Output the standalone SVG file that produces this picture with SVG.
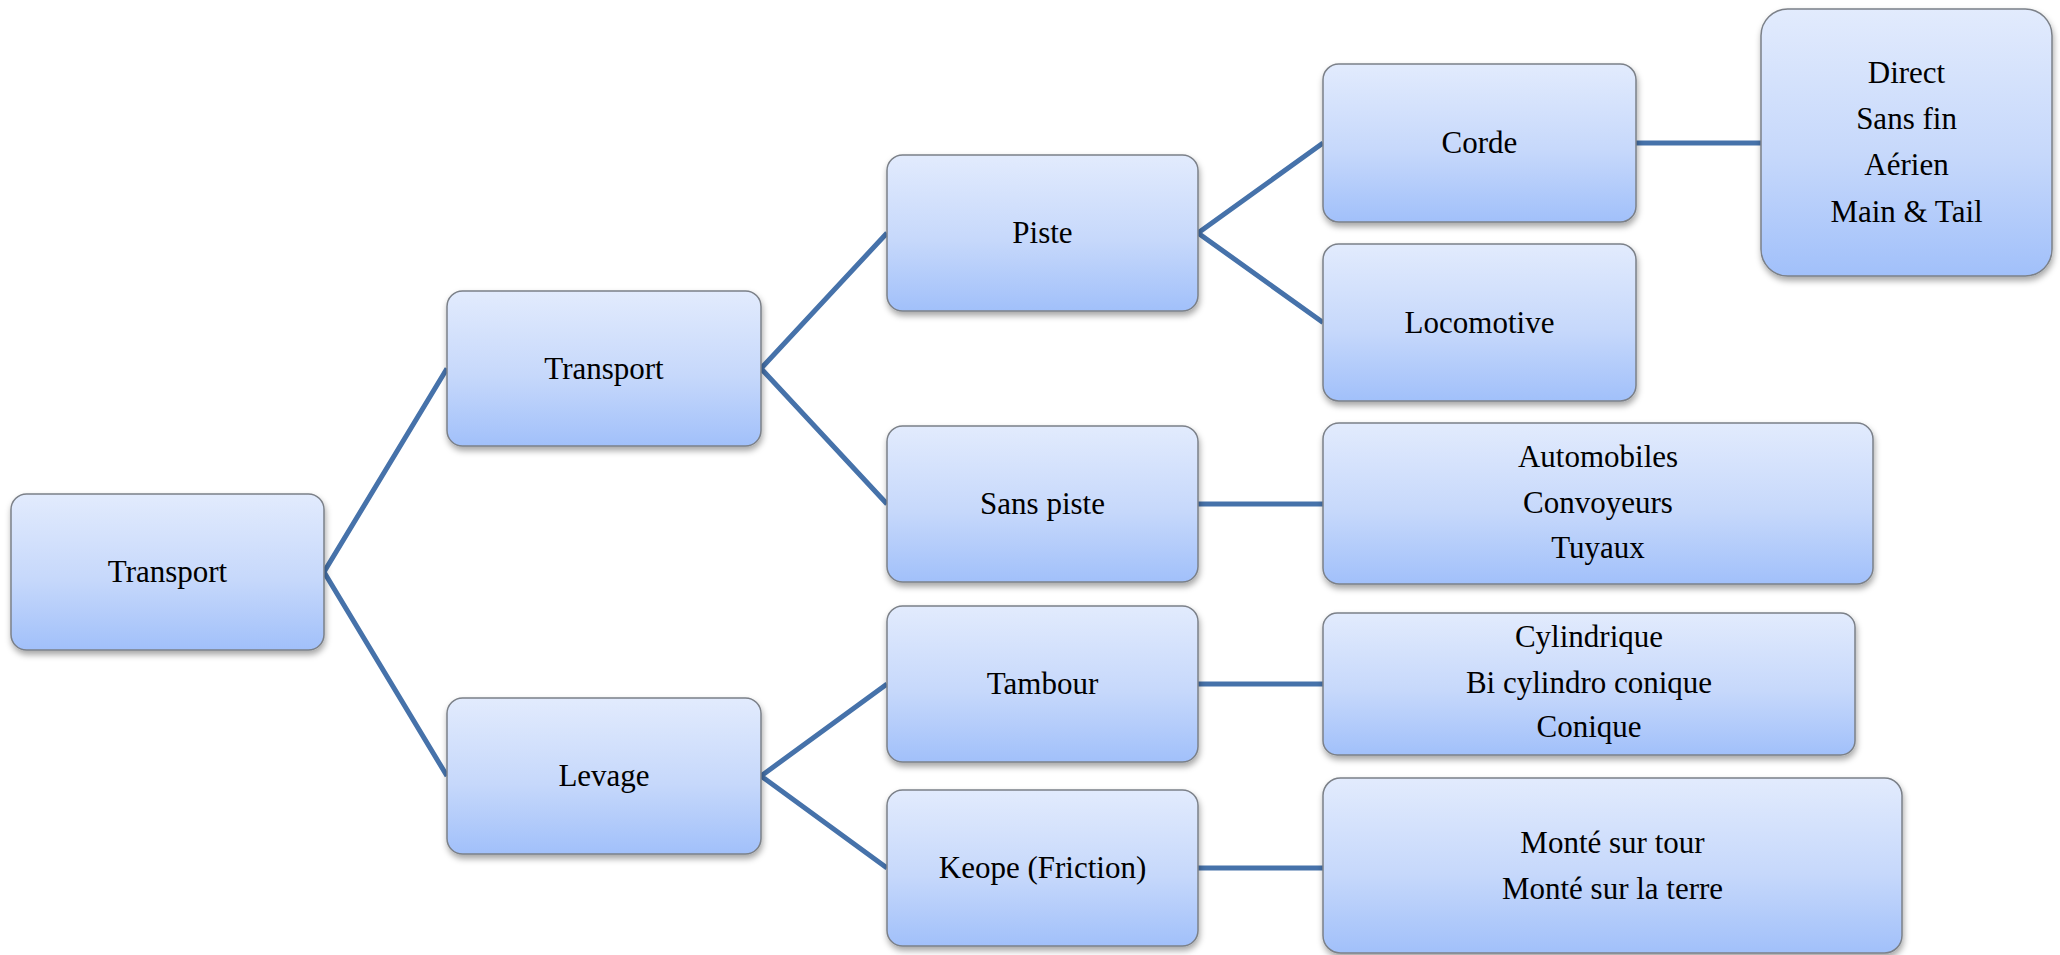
<svg xmlns="http://www.w3.org/2000/svg" width="2060" height="955" viewBox="0 0 2060 955">
<defs>
<linearGradient id="g" x1="0" y1="0" x2="0" y2="1">
<stop offset="0" stop-color="#e2ebfd"/>
<stop offset="0.55" stop-color="#c6d8fb"/>
<stop offset="1" stop-color="#a1c0fa"/>
</linearGradient>
<filter id="sh" x="-10%" y="-10%" width="120%" height="125%">
<feDropShadow dx="1" dy="4" stdDeviation="3" flood-color="#000" flood-opacity="0.35"/>
</filter>
</defs>
<style>
.box{fill:url(#g);stroke:#7b8088;stroke-width:1.5;filter:url(#sh)}
.t{font-family:"Liberation Serif","Times New Roman",serif;font-size:31px;fill:#000;text-anchor:middle}
.c{stroke:#4672aa;stroke-width:5;fill:none;stroke-linejoin:miter}
</style>
<rect width="2060" height="955" fill="#fff"/>
<g id="connectors">
<polyline class="c" points="447,368.5 324,572 447,776"/>
<polyline class="c" points="887,233 761,368.5 887,504"/>
<polyline class="c" points="887,684 761,776 887,868"/>
<polyline class="c" points="1323,143 1198,233 1323,322.5"/>
<line class="c" x1="1198" y1="504" x2="1323" y2="504"/>
<line class="c" x1="1198" y1="684" x2="1323" y2="684"/>
<line class="c" x1="1198" y1="868" x2="1323" y2="868"/>
<line class="c" x1="1636" y1="143" x2="1761" y2="143"/>
</g>
<g id="n-root"><rect class="box" x="11" y="494" width="313" height="156" rx="15.6"/><text class="t" x="167.5" y="582">Transport</text></g>
<g id="n-transport"><rect class="box" x="447" y="291" width="314" height="155" rx="15.5"/><text class="t" x="604" y="378.5">Transport</text></g>
<g id="n-levage"><rect class="box" x="447" y="698" width="314" height="156" rx="15.6"/><text class="t" x="604" y="786">Levage</text></g>
<g id="n-piste"><rect class="box" x="887" y="155" width="311" height="156" rx="15.6"/><text class="t" x="1042.5" y="243">Piste</text></g>
<g id="n-sanspiste"><rect class="box" x="887" y="426" width="311" height="156" rx="15.6"/><text class="t" x="1042.5" y="514">Sans piste</text></g>
<g id="n-tambour"><rect class="box" x="887" y="606" width="311" height="156" rx="15.6"/><text class="t" x="1042.5" y="694">Tambour</text></g>
<g id="n-keope"><rect class="box" x="887" y="790" width="311" height="156" rx="15.6"/><text class="t" x="1042.5" y="878">Keope (Friction)</text></g>
<g id="n-corde"><rect class="box" x="1323" y="64" width="313" height="158" rx="15.8"/><text class="t" x="1479.5" y="153">Corde</text></g>
<g id="n-locomotive"><rect class="box" x="1323" y="244" width="313" height="157" rx="15.7"/><text class="t" x="1479.5" y="332.5">Locomotive</text></g>
<g id="n-direct"><rect class="box" x="1761" y="9" width="291" height="267" rx="26.7"/>
<text class="t" x="1906.5" y="83">Direct</text>
<text class="t" x="1906.5" y="129">Sans fin</text>
<text class="t" x="1906.5" y="175">Aérien</text>
<text class="t" x="1906.5" y="222">Main &amp; Tail</text></g>
<g id="n-automobiles"><rect class="box" x="1323" y="423" width="550" height="161" rx="16.1"/>
<text class="t" x="1598" y="467">Automobiles</text>
<text class="t" x="1598" y="513">Convoyeurs</text>
<text class="t" x="1598" y="558">Tuyaux</text></g>
<g id="n-cylindrique"><rect class="box" x="1323" y="613" width="532" height="142" rx="14.2"/>
<text class="t" x="1589" y="647">Cylindrique</text>
<text class="t" x="1589" y="693">Bi cylindro conique</text>
<text class="t" x="1589" y="737">Conique</text></g>
<g id="n-monte"><rect class="box" x="1323" y="778" width="579" height="175" rx="17.5"/>
<text class="t" x="1612.5" y="853">Monté sur tour</text>
<text class="t" x="1612.5" y="899">Monté sur la terre</text></g>
</svg>
